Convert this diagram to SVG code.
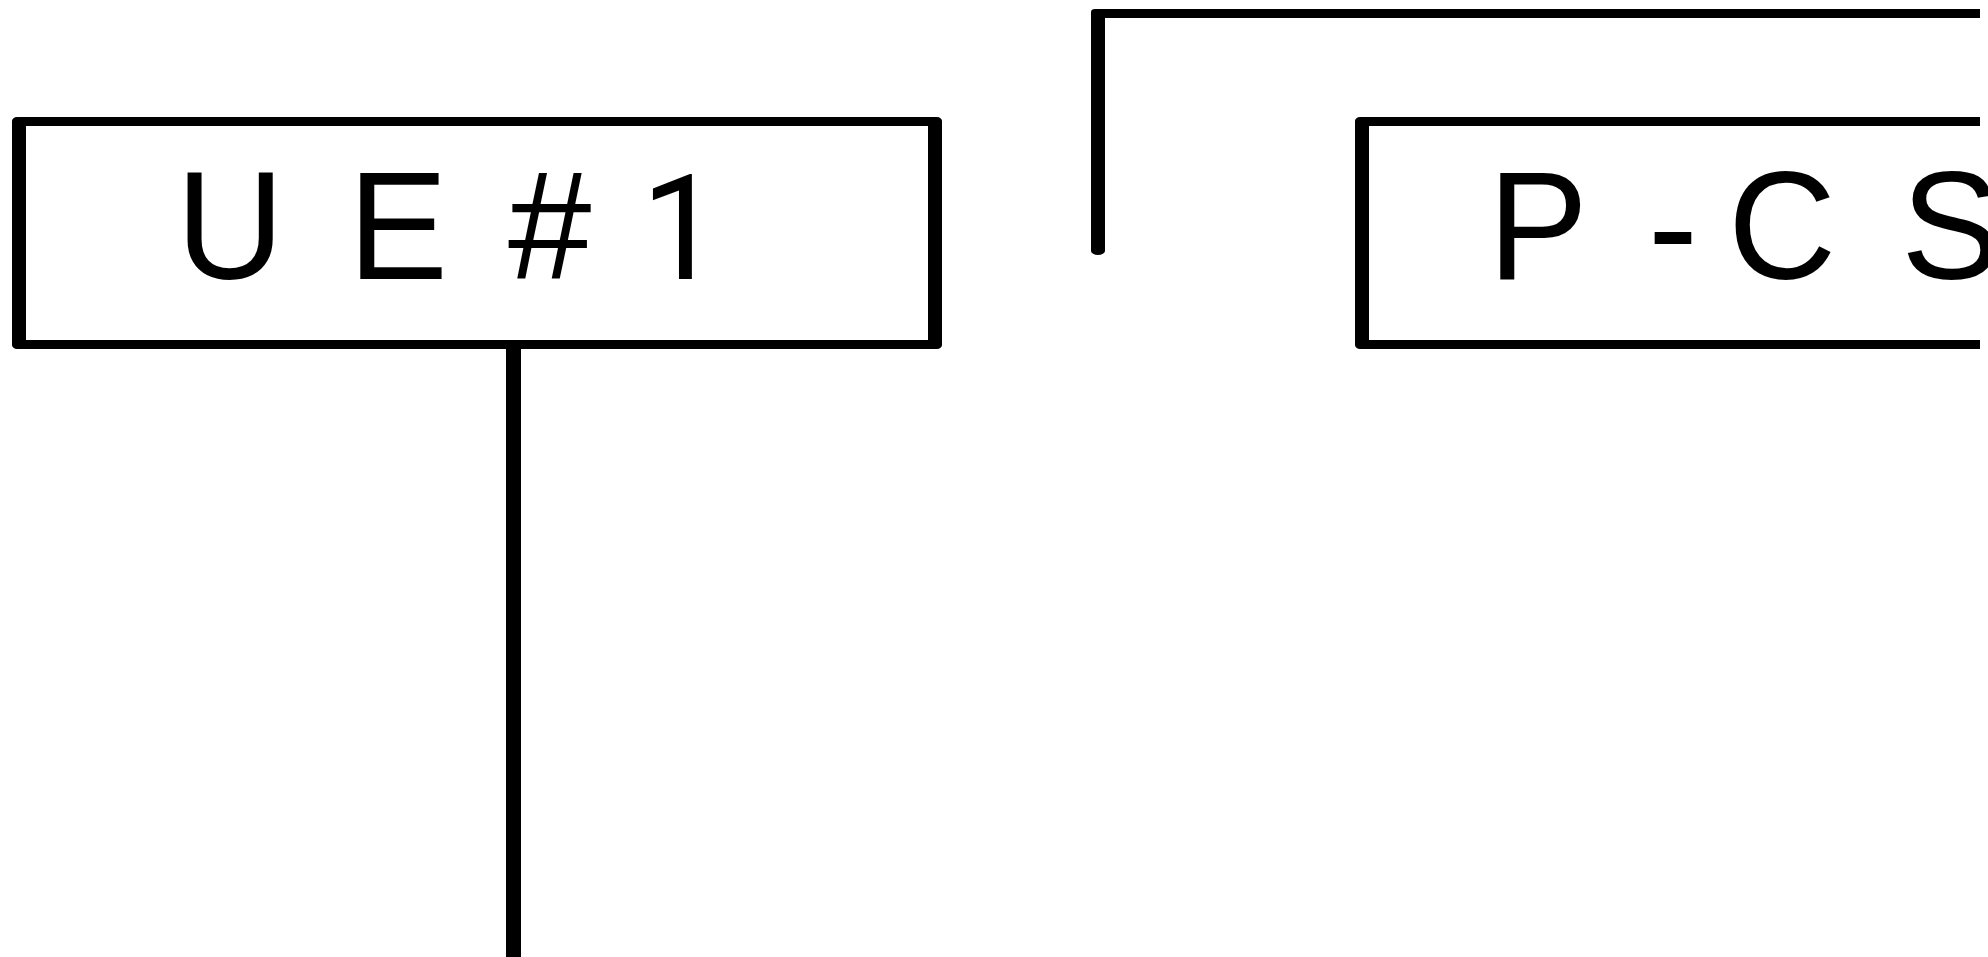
<svg xmlns="http://www.w3.org/2000/svg" width="1988" height="957" viewBox="0 0 1988 957">
  <style>
    .frame { fill: #000; fill-rule: evenodd; stroke: none; }
    .label { font-family: "Liberation Sans", Arial, sans-serif; font-size: 150px; fill: #000; }
    .alt { font-family: Roboto, "Liberation Sans", sans-serif; font-size: 143px; }
    .life { fill: #000; stroke: none; }
  </style>
  <rect x="0" y="0" width="1988" height="957" fill="#fff"/>
  <g id="outer-frame">
    <path class="frame" d="M1095,9 H1980 V18 H1105 V251 A7,4 0 0 1 1091,251 V12 A4,3 0 0 1 1095,9 Z"/>
  </g>
  <g id="node-ue1">
    <path class="frame" d="M17,117 H937 A5,4 0 0 1 942,121 V345 A5,4 0 0 1 937,349 H17 A5,4 0 0 1 12,345 V121 A5,4 0 0 1 17,117 Z M26,126 V340 H928 V126 Z"/>
    <text class="label" transform="matrix(1,0,0,1.025,0,-6.975)" x="176 348 508" y="279">UE#<tspan class="alt" x="641">1</tspan></text>
  </g>
  <g id="node-pcscf">
    <path class="frame" d="M1360,117 H1980 V126 H1369 V340 H1980 V349 H1360 A5,4 0 0 1 1355,345 V121 A5,4 0 0 1 1360,117 Z"/>
    <text class="label" transform="matrix(1,0,0,1.025,0,-6.975)" x="1488 1648 1728 1901 2070 2240" y="279">P-CSCF</text>
  </g>
  <g id="connectors">
    <rect class="life" x="506" y="349" width="15" height="608"/>
  </g>
</svg>
